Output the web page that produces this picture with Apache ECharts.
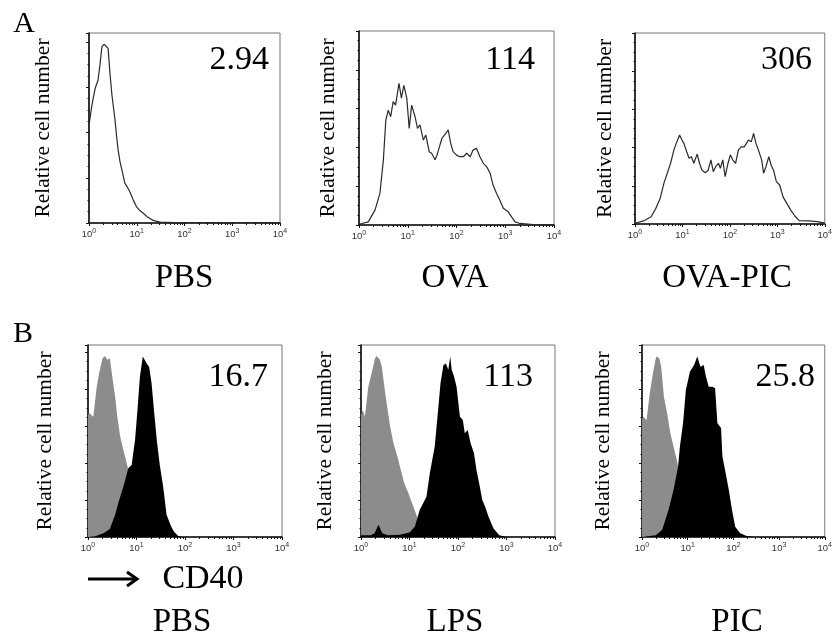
<!DOCTYPE html>
<html>
<head>
<meta charset="utf-8">
<script src="https://cdn.jsdelivr.net/npm/echarts@6/dist/echarts.min.js"></script>
<style>
  html, body { margin: 0; padding: 0; background: #fff; }
  #chart { width: 835px; height: 639px; }
</style>
</head>
<body>
<div id="chart"></div>
<script>
// x values are log10 of fluorescence (0..4 = 10^0..10^4), y = relative cell number
var TICK_EXP = ['0', '1', '2', '3', '4'];
var NAMES_A = ['PBS', 'OVA', 'OVA-PIC'];
var NAMES_B = ['PBS', 'LPS', 'PIC'];
var MFI_A = ['2.94', '114', '306'];
var MFI_B = ['16.7', '113', '25.8'];
var Y_TITLE = 'Relative cell number';

var A_PBS = [[0,2.16],[0.06,2.6],[0.13,2.98],[0.19,3.16],[0.23,3.5],[0.27,3.9],[0.32,3.95],[0.36,3.98],[0.40,3.86],[0.44,3.3],
  [0.48,2.83],[0.54,2.32],[0.58,1.9],[0.61,1.61],[0.65,1.35],[0.69,1.17],[0.75,0.88],[0.80,0.8],[0.86,0.68],[0.93,0.5],
  [1.0,0.35],[1.07,0.27],[1.13,0.22],[1.22,0.14],[1.32,0.07],[1.4,0.04],[1.49,0.02],[1.8,0.01],[2.5,0.01],[3.2,0.01],[4,0.01]];

var A_OVA = [[0,0.02],[0.19,0.08],[0.33,0.39],[0.43,0.82],[0.5,1.68],[0.55,2.7],[0.6,2.96],[0.65,2.79],[0.7,3.18],[0.75,3.09],
  [0.82,3.65],[0.87,3.27],[0.92,3.6],[0.98,3.27],[1.03,2.49],[1.08,3.09],[1.15,2.79],[1.2,2.49],[1.25,2.58],[1.32,2.19],
  [1.37,2.32],[1.44,1.89],[1.49,1.85],[1.56,1.68],[1.6,1.8],[1.63,1.93],[1.70,2.23],[1.78,2.36],[1.83,2.45],[1.88,2.11],
  [1.93,1.89],[2.0,1.8],[2.07,1.76],[2.14,1.76],[2.21,1.85],[2.28,1.76],[2.34,1.93],[2.41,1.98],[2.48,1.76],[2.55,1.59],
  [2.62,1.5],[2.69,1.33],[2.75,1.03],[2.82,0.82],[2.89,0.64],[2.96,0.43],[3.06,0.34],[3.13,0.21],[3.2,0.08],[3.3,0.04],
  [3.58,0.01],[4,0.01]];

var A_OVAPIC = [[0,0.02],[0.2,0.09],[0.34,0.19],[0.44,0.41],[0.53,0.67],[0.61,1.07],[0.68,1.33],[0.75,1.59],[0.82,1.94],
  [0.87,2.11],[0.94,2.33],[0.99,2.2],[1.03,2.11],[1.09,1.89],[1.14,1.72],[1.19,1.76],[1.24,1.59],[1.31,1.83],[1.36,1.59],
  [1.41,1.41],[1.48,1.34],[1.54,1.4],[1.6,1.68],[1.65,1.37],[1.70,1.5],[1.76,1.59],[1.8,1.46],[1.85,1.68],[1.9,1.24],
  [1.96,1.59],[2.01,1.81],[2.06,1.68],[2.12,1.59],[2.18,1.94],[2.24,2.02],[2.3,2.02],[2.35,2.11],[2.39,2.2],[2.45,2.15],
  [2.5,2.37],[2.55,2.11],[2.6,1.94],[2.67,1.68],[2.71,1.33],[2.76,1.5],[2.82,1.76],[2.87,1.54],[2.92,1.41],[2.98,1.11],
  [3.05,1.02],[3.12,0.71],[3.2,0.54],[3.28,0.37],[3.37,0.21],[3.46,0.09],[3.67,0.08],[3.84,0.06],[3.98,0.03],[4,0.02]];

// panel B: grey = control, black = CD40
var B_PBS_CTRL = [[0,3.3],[0.02,3.36],[0.11,3.26],[0.18,4.07],[0.23,4.44],[0.3,4.84],[0.35,4.9],[0.4,4.8],[0.45,4.84],
  [0.51,4.25],[0.56,3.8],[0.6,3.3],[0.66,2.75],[0.73,2.35],[0.78,2.1],[0.83,1.82],[0.9,1.5],[1.0,1.0],[1.1,0.6],
  [1.2,0.35],[1.35,0.15],[1.5,0.05],[1.7,0],[4,0]];
var B_PBS_CD40 = [[0,0],[0.15,0.02],[0.18,0.05],[0.32,0.1],[0.45,0.22],[0.56,0.6],[0.62,0.9],[0.69,1.2],[0.76,1.5],
  [0.83,1.86],[0.9,1.95],[0.97,2.63],[1.02,3.44],[1.07,4.34],[1.13,4.89],[1.16,4.84],[1.21,4.7],[1.26,4.61],[1.31,4.17],
  [1.36,3.44],[1.42,2.6],[1.48,1.95],[1.55,1.36],[1.62,0.6],[1.71,0.3],[1.77,0.15],[1.86,0.03],[1.94,0],[4,0]];

var B_LPS_CTRL = [[0,3.3],[0.04,3.44],[0.08,3.26],[0.15,4.07],[0.22,4.44],[0.29,4.84],[0.32,4.9],[0.39,4.8],[0.43,4.61],
  [0.49,3.98],[0.54,3.53],[0.6,2.99],[0.67,2.54],[0.75,2.18],[0.82,1.82],[0.89,1.46],[0.98,1.18],[1.08,0.82],[1.18,0.46],
  [1.28,0.2],[1.42,0.05],[1.63,0],[4,0]];
var B_LPS_CD40 = [[0,0.05],[0.2,0.05],[0.28,0.1],[0.36,0.33],[0.44,0.1],[0.55,0.05],[0.8,0.06],[1.0,0.12],[1.11,0.28],
  [1.21,0.73],[1.35,1.09],[1.42,1.73],[1.52,2.45],[1.59,3.44],[1.64,4.17],[1.7,4.66],[1.75,4.7],[1.8,4.53],[1.84,4.89],
  [1.87,4.53],[1.92,4.34],[1.97,4.07],[2.04,3.26],[2.1,3.17],[2.14,2.81],[2.2,2.9],[2.26,2.54],[2.33,2.27],[2.38,1.82],
  [2.45,1.36],[2.5,1.0],[2.56,0.82],[2.63,0.55],[2.73,0.24],[2.85,0.05],[3.0,0],[4,0]];

var B_PIC_CTRL = [[0,3.2],[0.03,3.26],[0.1,3.17],[0.17,3.89],[0.24,4.44],[0.31,4.89],[0.38,4.84],[0.42,4.61],[0.48,3.8],
  [0.55,3.35],[0.62,2.81],[0.69,2.45],[0.76,2.09],[0.85,1.6],[0.95,1.1],[1.05,0.7],[1.2,0.3],[1.4,0.08],[1.6,0],[4,0]];
var B_PIC_CD40 = [[0,0],[0.3,0.05],[0.44,0.19],[0.58,0.73],[0.69,1.27],[0.79,1.9],[0.83,2.45],[0.9,3.1],[0.96,3.98],
  [1.05,4.48],[1.14,4.66],[1.21,4.89],[1.28,4.61],[1.35,4.66],[1.4,4.34],[1.46,4.07],[1.54,4.07],[1.6,4.03],[1.65,3.08],
  [1.73,2.95],[1.76,2.18],[1.83,1.73],[1.9,1.27],[1.97,0.73],[2.04,0.28],[2.15,0.1],[2.29,0.03],[2.46,0],[4,0]];

var SERIF = '"Liberation Serif", "Times New Roman", serif';

// panel boxes (pixels)
var panels = [
  { box: [89, 33, 191, 190], ymax: 4.2, gap: 35, lines: [A_PBS] },
  { box: [359, 31, 195, 194], ymax: 5, gap: 20, lines: [A_OVA] },
  { box: [635, 33, 196, 191], ymax: 5, gap: 19, lines: [A_OVAPIC] },
  { box: [88, 345, 194, 192], ymax: 5.2, gap: 32, fills: [B_PBS_CTRL, B_PBS_CD40] },
  { box: [361, 345, 194, 192], ymax: 5.2, gap: 25, fills: [B_LPS_CTRL, B_LPS_CD40] },
  { box: [642, 345, 191, 192], ymax: 5.2, gap: 28, fills: [B_PIC_CTRL, B_PIC_CD40] }
];

var grids = [], xAxes = [], yAxes = [], series = [];
panels.forEach(function (p, i) {
  grids.push({
    left: p.box[0], top: p.box[1], width: p.box[2], height: p.box[3],
    show: true, borderColor: '#777', borderWidth: 1, backgroundColor: 'transparent'
  });
  xAxes.push({
    gridIndex: i, type: 'value', min: 0, max: 4, interval: 1,
    axisLine: { lineStyle: { color: '#111', width: 1.6 } },
    axisTick: { length: 3, lineStyle: { color: '#111' } },
    splitLine: { show: false },
    axisLabel: {
      margin: 5, color: '#333',
      formatter: function (v) { return '{b|10}{s|' + TICK_EXP[Math.round(v)] + '}'; },
      rich: {
        b: { fontSize: 9.5, fontFamily: 'Liberation Sans', color: '#333', lineHeight: 13 },
        s: { fontSize: 7, fontFamily: 'Liberation Sans', color: '#333', verticalAlign: 'top', lineHeight: 13 }
      }
    }
  });
  // log minor ticks
  xAxes.push({
    gridIndex: i, type: 'log', logBase: 10, min: 1, max: 10000, position: 'bottom',
    axisLine: { show: false }, axisLabel: { show: false }, axisTick: { show: false },
    splitLine: { show: false },
    minorTick: { show: true, splitNumber: 9, length: 2, lineStyle: { color: '#111' } }
  });
  yAxes.push({
    gridIndex: i, type: 'value', min: 0, max: p.ymax, interval: 1,
    axisLine: { show: true, lineStyle: { color: '#111', width: 1.6 } },
    axisTick: { show: true, length: 3, lineStyle: { color: '#111' } },
    minorTick: { show: true, splitNumber: 4, length: 1.5, lineStyle: { color: '#111' } },
    axisLabel: { show: false },
    splitLine: { show: false },
    name: Y_TITLE, nameLocation: 'middle', nameRotate: 90, nameGap: p.gap,
    nameTextStyle: { fontFamily: SERIF, fontSize: 21.5, color: '#000' }
  });
  var xi = i * 2;
  (p.lines || []).forEach(function (d) {
    series.push({
      type: 'line', xAxisIndex: xi, yAxisIndex: i, data: d, symbol: 'none',
      lineStyle: { color: '#2a2a2a', width: 1.2 }, silent: true
    });
  });
  (p.fills || []).forEach(function (d, k) {
    var c = k === 0 ? '#8c8c8c' : '#000';
    series.push({
      type: 'line', xAxisIndex: xi, yAxisIndex: i, data: d, symbol: 'none', z: 2 + k,
      lineStyle: { width: 0 }, areaStyle: { color: c, opacity: 1 }, silent: true
    });
  });
});

function txt(s, x, y, size, align) {
  return {
    type: 'text', x: x, y: y, silent: true,
    style: { text: s, font: size + 'px ' + SERIF, fill: '#000', textAlign: align || 'center', textVerticalAlign: 'middle' }
  };
}

var graphics = [txt('A', 24, 24, 30), txt('B', 23, 334, 30)];
var rightA = [269, 535, 812], rightB = [268, 533, 815];
var centA = [184, 455, 727], centB = [182, 455, 737];
for (var k = 0; k < 3; k++) {
  graphics.push(txt(MFI_A[k], rightA[k], 60, 34, 'right'));
  graphics.push(txt(MFI_B[k], rightB[k], 377, 34, 'right'));
  graphics.push(txt(NAMES_A[k], centA[k], 278, 33));
  graphics.push(txt(NAMES_B[k], centB[k], 622, 33));
}
graphics.push(txt('CD40', 203, 579, 34));
graphics.push({ type: 'line', silent: true, shape: { x1: 88, y1: 579, x2: 135, y2: 579 }, style: { stroke: '#000', lineWidth: 3 } });
graphics.push({ type: 'polyline', silent: true, shape: { points: [[127, 572], [137, 579], [127, 586]] }, style: { stroke: '#000', lineWidth: 3, fill: null } });

var chart = echarts.init(document.getElementById('chart'), null, { renderer: 'canvas' });
chart.setOption({
  animation: false,
  backgroundColor: '#fff',
  grid: grids,
  xAxis: xAxes,
  yAxis: yAxes,
  series: series,
  graphic: graphics
});
</script>
</body>
</html>
